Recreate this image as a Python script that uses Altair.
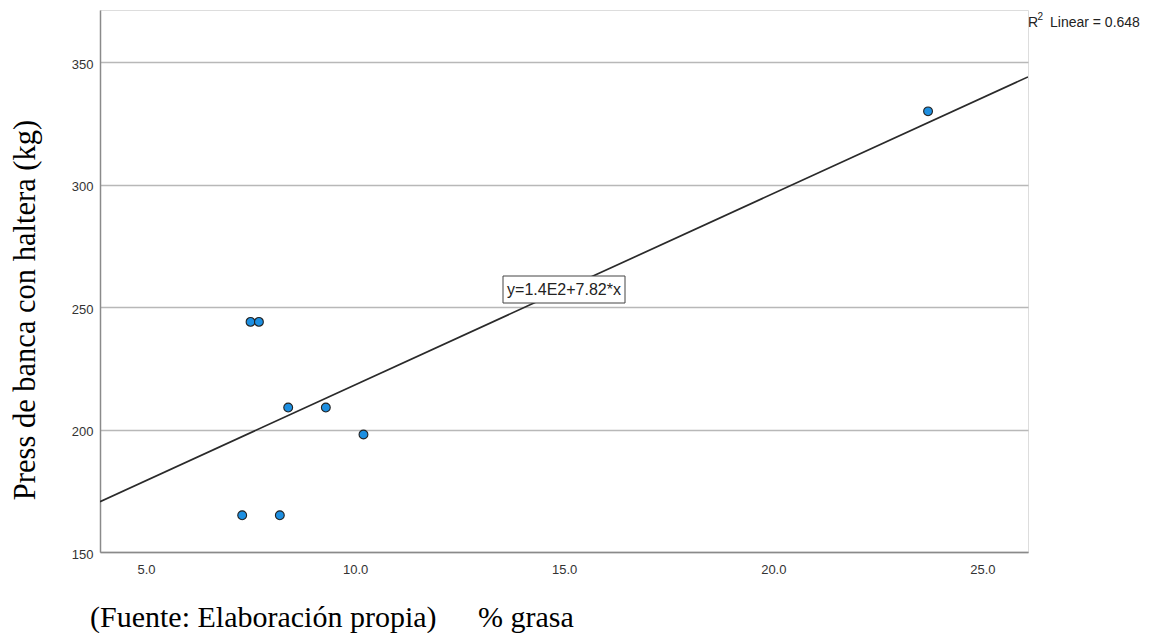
import altair as alt
import pandas as pd

# Data
grasa = [7.3, 8.2, 7.5, 7.7, 8.4, 9.3, 10.2, 23.7]
press = [165, 165, 244, 244, 209, 209, 198, 330]
x_ticks = [5, 10, 15, 20, 25]
y_ticks = [150, 200, 250, 300, 350]
eq_label = "y=1.4E2+7.82*x"
r2_value = "Linear = 0.648"
y_title = "Press de banca con haltera (kg)"
source_note = "(Fuente: Elaboración propia)"
x_title = "% grasa"

df = pd.DataFrame({"x": grasa, "y": press})
one = pd.DataFrame({"k": [0]})

X_DOM = [3.9, 26.09]
Y_DOM = [150, 371.4]

xs = alt.Scale(domain=X_DOM, nice=False, zero=False)
ys = alt.Scale(domain=Y_DOM, nice=False, zero=False)

SANS = "Liberation Sans"
SERIF = "Liberation Serif"

base = alt.Chart(df)

line = base.transform_regression("x", "y", extent=X_DOM).mark_line(
    color="#2a2a2a", strokeWidth=1.7, clip=True
).encode(
    x=alt.X("x:Q", scale=xs,
            axis=alt.Axis(values=x_ticks, format=".1f", title=None, grid=False,
                          ticks=False, labelPadding=11, labelFontSize=13,
                          labelFont=SANS, labelColor="#333",
                          domainColor="#8a8a8a", domainWidth=1.5)),
    y=alt.Y("y:Q", scale=ys,
            axis=alt.Axis(values=y_ticks, title=None, grid=True,
                          gridColor="#b8b8b8", gridWidth=1.3,
                          ticks=False, labelPadding=7, labelFontSize=13,
                          labelFont=SANS, labelColor="#333", labelOffset=2,
                          domainColor="#8a8a8a", domainWidth=1.5)),
)

box = alt.Chart(one).mark_rect(fill="white", stroke="#444", strokeWidth=1).encode(
    x=alt.value(403), x2=alt.value(525), y=alt.value(266), y2=alt.value(293)
)
eq = alt.Chart(one).mark_text(font=SANS, fontSize=16, color="#222",
                              align="center", baseline="middle").encode(
    x=alt.value(464), y=alt.value(280), text=alt.value(eq_label)
)

points = base.mark_point(filled=True, fill="#1d8fe1", stroke="#222",
                         strokeWidth=1.1, size=78, opacity=1, shape="circle").encode(
    x=alt.X("x:Q", scale=xs), y=alt.Y("y:Q", scale=ys)
)

r_txt = alt.Chart(one).mark_text(font=SANS, fontSize=14, color="#222",
                                 align="left", baseline="alphabetic").encode(
    x=alt.value(928), y=alt.value(16.7), text=alt.value("R")
)
sup = alt.Chart(one).mark_text(font=SANS, fontSize=10, color="#222",
                               align="left", baseline="alphabetic").encode(
    x=alt.value(937.5), y=alt.value(10), text=alt.value("2")
)
r2 = alt.Chart(one).mark_text(font=SANS, fontSize=14, color="#222",
                              align="left", baseline="alphabetic").encode(
    x=alt.value(950), y=alt.value(16.7), text=alt.value(r2_value)
)

ytitle = alt.Chart(one).mark_text(font=SERIF, fontSize=30.5, color="#000",
                                  align="center", baseline="alphabetic",
                                  angle=270).encode(
    x=alt.value(-65), y=alt.value(300), text=alt.value(y_title)
)
note = alt.Chart(one).mark_text(font=SERIF, fontSize=30, color="#000",
                                align="left", baseline="alphabetic").encode(
    x=alt.value(-10), y=alt.value(617), text=alt.value(source_note)
)
xt = alt.Chart(one).mark_text(font=SERIF, fontSize=30, color="#000",
                              align="left", baseline="alphabetic").encode(
    x=alt.value(378), y=alt.value(617), text=alt.value(x_title)
)

chart = alt.layer(line, box, eq, points, r_txt, sup, r2, ytitle, note, xt).properties(
    width=928, height=542,
    autosize=alt.AutoSizeParams(type="none"),
    padding={"left": 92, "top": 2, "right": 118, "bottom": 81},
).configure_view(stroke=None).configure(background="white")

chart.save("out.html", embed_options={"renderer": "svg", "actions": False})
